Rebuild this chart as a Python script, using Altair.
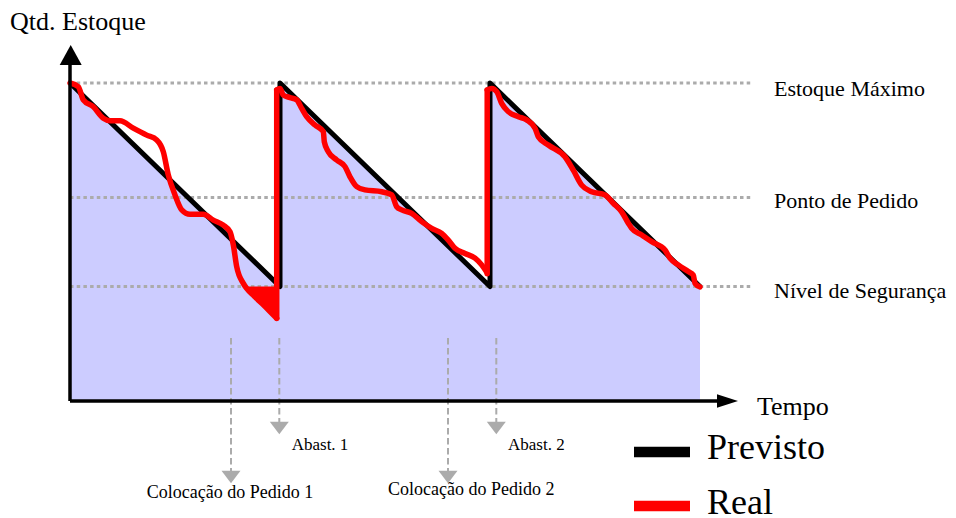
import altair as alt
import pandas as pd

# ---------------- data (time in days, quantity in units) ----------------
previsto_t = [0, 30, 30, 60, 60, 90]
previsto_q = [100, 36, 100, 36, 100, 36]

real1_t = [0, 1.19, 1.9, 3.33, 4.76, 5.71, 7.14, 9.04, 10.96, 12.39, 13.33, 14.04, 15.0, 15.96,
           17.14, 19.04, 20.47, 21.9, 22.86, 23.33, 23.81, 24.76, 25.24, 26.3, 27.4, 28.5, 29.53]
real1_q = [100, 98.8, 94.7, 92.5, 88.9, 88.1, 88.1, 85.8, 83.6, 82.1, 78.4, 71.1, 64.8, 60.1,
           58.7, 58.7, 56.9, 55.3, 53.2, 49.1, 42.3, 37.0, 35.4, 33.0, 30.7, 28.3, 26.0]
real2_t = [29.53, 30.0, 30.47, 31.43, 32.39, 33.1, 33.81, 35.0, 36.19, 36.33, 36.9, 38.1, 39.29,
           40.0, 40.96, 42.14, 44.53, 45.96, 46.67, 47.39, 48.81, 50.24, 51.67, 53.1, 54.04, 55.0,
           56.43, 57.86, 58.81, 59.5]
real2_q = [97.8, 98.3, 96.2, 95.4, 94.7, 92.0, 89.4, 86.8, 84.7, 81.5, 78.4, 75.8, 73.7,
           70.5, 67.4, 66.4, 65.8, 64.8, 61.1, 60.1, 59.0, 56.4, 54.3, 52.7, 50.6, 48.0,
           46.4, 44.9, 42.8, 40.6]
real3_t = [59.6, 60.24, 60.96, 61.67, 62.61, 64.04, 65.24, 66.43, 66.9, 68.33, 70.71, 71.9, 73.1,
           74.53, 76.43, 77.61, 78.81, 79.76, 80.24, 81.67, 83.1, 85.0, 85.71, 86.9, 88.33, 89.04,
           89.29, 90.0]
real3_q = [97.8, 98.3, 97.3, 93.6, 91.0, 89.4, 88.4, 85.8, 83.1, 80.5, 76.8, 72.6, 67.9,
           65.8, 64.8, 62.2, 59.5, 55.9, 54.3, 52.2, 50.1, 47.5, 44.9, 42.8, 40.7, 39.6,
           37.0, 35.9]
# replenishment jumps of the real line: time, from, to
jump_t = [29.53, 59.6]
jump_from = [26.0, 40.0]
jump_to = [97.8, 97.8]
# shortage (real below safety level)
short_t = [25.1, 29.53]
short_q = [36.0, 26.0]

levels = [100, 64, 36]
level_labels = ["Estoque Máximo", "Ponto de Pedido", "Nível de Segurança"]

event_t = [23.0, 29.9, 54.0, 60.9]
event_labels = ["Colocação do Pedido 1", "Abast. 1", "Colocação do Pedido 2", "Abast. 2"]

legend_labels = ["Previsto", "Real"]
legend_colors = ["black", "red"]

# ---------------- layout ----------------
W, H = 940, 510
PXD = 7.0      # px per day
PXU = 3.18     # px per unit
X0_PAGE, Y0_PAGE = 70, 401
X_MIN = (8 - X0_PAGE) / PXD
X_MAX = (8 + W - X0_PAGE) / PXD
Y_MAX = (Y0_PAGE - 8) / PXU
Y_MIN = (Y0_PAGE - 8 - H) / PXU

XS = alt.Scale(domain=[X_MIN, X_MAX], nice=False, zero=False)
YS = alt.Scale(domain=[Y_MIN, Y_MAX], nice=False, zero=False)


def X(f):
    return alt.X(f, type="quantitative", scale=XS, axis=None)


def Y(f):
    return alt.Y(f, type="quantitative", scale=YS, axis=None)


def tq(px, py):
    return (px - X0_PAGE) / PXD, (Y0_PAGE - py) / PXU


FONT = "Liberation Serif"
GRAY = "#ababab"

# fill under the planned line
fill_t = []
for i, t in enumerate(previsto_t):
    fill_t.append(t + (0.001 if i > 0 and t == previsto_t[i - 1] else 0))
fill_df = pd.DataFrame({"t": fill_t, "q": previsto_q, "b": 0})
fill = alt.Chart(fill_df).mark_area(color="#ccccff", opacity=1).encode(
    x=X("t"), y=Y("q"), y2="b")

# level dotted lines
lv_end = tq(752, 0)[0]
lv_df = pd.DataFrame({"q": levels, "t0": 0, "t1": lv_end, "label": level_labels})
lv_lines = alt.Chart(lv_df).mark_rule(color=GRAY, strokeWidth=3, strokeDash=[3.5, 3.2]).encode(
    x=X("t0"), x2="t1", y=Y("q"))
lv_off_px = [13, 10.5, 11]
lv_txt_df = pd.DataFrame({"t": tq(774, 0)[0], "q": [l - o / PXU for l, o in zip(levels, lv_off_px)],
                          "label": level_labels})
lv_text = alt.Chart(lv_txt_df).mark_text(font=FONT, fontSize=22, align="left",
                                         baseline="alphabetic", color="black").encode(
    x=X("t"), y=Y("q"), text="label:N")

# event arrows
ev_start = tq(0, 338)[1]
ev_end_px = [471, 422, 471, 422]
ev_head_px = [477, 428, 477, 428]
ev_lab_x_px = [146.7, 291.7, 388, 508]
ev_lab_y_px = [498, 450, 495, 450]
ev_df = pd.DataFrame({
    "t": event_t,
    "q0": ev_start,
    "q1": [tq(0, p)[1] for p in ev_end_px],
    "qh": [tq(0, p)[1] for p in ev_head_px],
    "lt": [tq(p, 0)[0] for p in ev_lab_x_px],
    "lq": [tq(0, p)[1] for p in ev_lab_y_px],
    "label": event_labels,
    "fs": [18, 17, 18, 17],
})
ev_lines = alt.Chart(ev_df).mark_rule(color=GRAY, strokeWidth=2, strokeDash=[6.5, 3.5]).encode(
    x=X("t"), y=Y("q0"), y2="q1")
ev_heads = alt.Chart(ev_df).mark_point(shape="M-1,-0.65L1,-0.65L0,0.65Z", filled=True, size=361,
                                       color=GRAY, opacity=1, strokeWidth=0).encode(
    x=X("t"), y=Y("qh"))
ev_text1 = alt.Chart(ev_df[ev_df.fs == 18]).mark_text(font=FONT, fontSize=18, align="left",
                                                      baseline="alphabetic").encode(
    x=X("lt"), y=Y("lq"), text="label:N")
ev_text2 = alt.Chart(ev_df[ev_df.fs == 17]).mark_text(font=FONT, fontSize=17, align="left",
                                                      baseline="alphabetic").encode(
    x=X("lt"), y=Y("lq"), text="label:N")

# planned line
prev_df = pd.DataFrame({"t": previsto_t, "q": previsto_q, "i": range(len(previsto_t))})
prev_line = alt.Chart(prev_df).mark_line(color="black", strokeWidth=5, strokeJoin="round").encode(
    x=X("t"), y=Y("q"), order="i:Q")

# real line
rows = []
for s, (ts, qs) in enumerate([(real1_t, real1_q), (real2_t, real2_q), (real3_t, real3_q)]):
    for i, (t, q) in enumerate(zip(ts, qs)):
        rows.append({"t": t, "q": q, "seg": s, "i": i})
real_df = pd.DataFrame(rows)
short_df = pd.DataFrame({"t": short_t, "q": short_q, "b": 36.0})
short = alt.Chart(short_df).mark_area(color="red", opacity=1).encode(x=X("t"), y=Y("q"), y2="b")
real_line = alt.Chart(real_df).mark_line(color="red", strokeWidth=5.5, interpolate="monotone",
                                         strokeCap="round", strokeJoin="round").encode(
    x=X("t"), y=Y("q"), detail="seg:N", order="i:Q")
jump_df = pd.DataFrame({"t": jump_t, "q0": jump_from, "q1": jump_to})
jumps = alt.Chart(jump_df).mark_rule(color="red", strokeWidth=5.5, strokeCap="round").encode(
    x=X("t"), y=Y("q0"), y2="q1")

# axes
ax_df = pd.DataFrame({"t0": [0, 0], "t1": [0, tq(721, 0)[0]], "q0": [0, 0], "q1": [tq(0, 62)[1], 0]})
axes = alt.Chart(ax_df).mark_rule(color="black", strokeWidth=3.5).encode(
    x=X("t0"), x2="t1", y=Y("q0"), y2="q1")
head_up = alt.Chart(pd.DataFrame({"t": [0.1], "q": [tq(0, 55)[1]]})).mark_point(
    shape="M0,-0.9L-1,0.9L1,0.9Z", filled=True, size=484, color="black", opacity=1,
    strokeWidth=0).encode(x=X("t"), y=Y("q"))
head_right = alt.Chart(pd.DataFrame({"t": [tq(727.5, 0)[0]], "q": [tq(0, 401)[1]]})).mark_point(
    shape="M1,0L-1,-0.65L-1,0.65Z", filled=True, size=441, color="black", opacity=1,
    strokeWidth=0).encode(x=X("t"), y=Y("q"))

# axis titles
ttl_df = pd.DataFrame({"t": [tq(10, 0)[0], tq(757, 0)[0]], "q": [tq(0, 30)[1], tq(0, 415)[1]],
                       "label": ["Qtd. Estoque", "Tempo"]})
titles = alt.Chart(ttl_df).mark_text(font=FONT, fontSize=26, align="left",
                                     baseline="alphabetic").encode(
    x=X("t"), y=Y("q"), text="label:N")

# legend
lg_df = pd.DataFrame({"label": legend_labels, "color": legend_colors,
                      "t0": tq(634, 0)[0], "t1": tq(690, 0)[0],
                      "qb": [tq(0, 452)[1], tq(0, 506)[1]],
                      "tt": tq(707, 0)[0],
                      "qt": [tq(0, 459.3)[1], tq(0, 513.5)[1]]})
lg_bars = alt.Chart(lg_df).mark_rule(strokeWidth=10.5).encode(
    x=X("t0"), x2="t1", y=Y("qb"),
    color=alt.Color("label:N", scale=alt.Scale(domain=legend_labels, range=legend_colors), legend=None))
lg_text = alt.Chart(lg_df).mark_text(font=FONT, fontSize=36, align="left",
                                     baseline="alphabetic", color="black").encode(
    x=X("tt"), y=Y("qt"), text="label:N")

chart = alt.layer(
    fill, lv_lines, ev_lines, ev_heads, prev_line, short, real_line, jumps,
    axes, head_up, head_right, lv_text, ev_text1, ev_text2, titles, lg_bars, lg_text
).properties(
    width=W, height=H, padding=0, autosize=alt.AutoSizeParams(type="none"), background="white"
).configure_view(stroke=None)

chart.save("out.html", embed_options={"renderer": "svg", "actions": False})
